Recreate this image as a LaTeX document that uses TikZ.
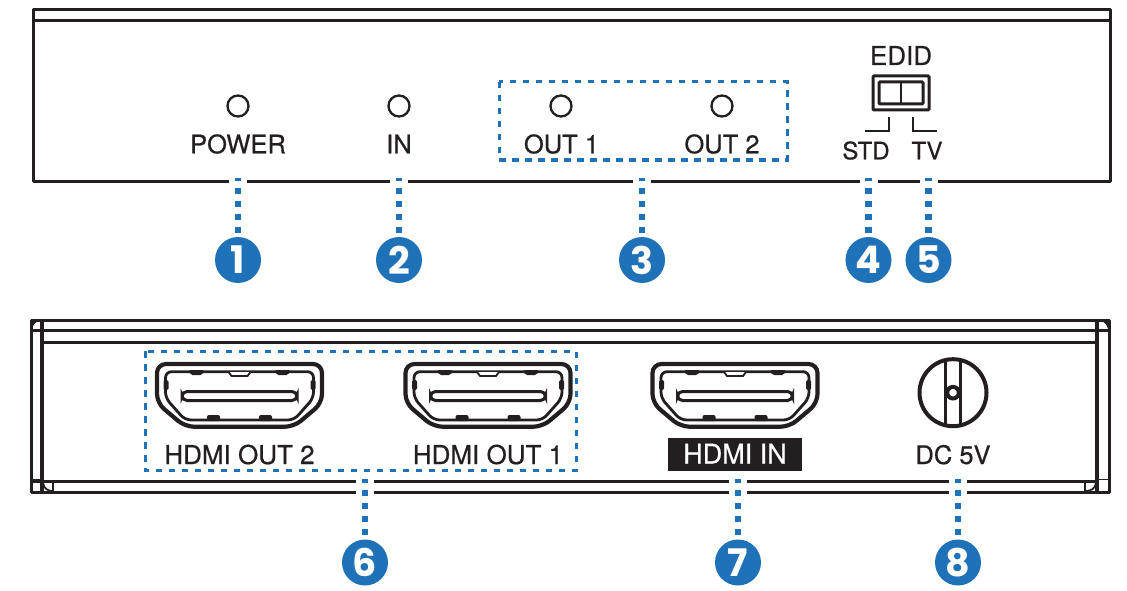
\documentclass[tikz,border=0pt]{standalone}
\usepackage{fontspec}
\setmainfont{TeX Gyre Heros}[FakeBold=0.6]
\newfontfamily\numfont{Poppins}
\definecolor{ink}{HTML}{231F20}
\definecolor{accent}{HTML}{2072B8}
\tikzset{
  x=1pt,y=-1pt,
  panel/.style={draw=ink,line width=3pt,line join=round},
  thinpanel/.style={draw=ink,line width=1.8pt},
  heavypanel/.style={draw=ink,line width=4pt},
  led/.style={circle,draw=ink,line width=2.3pt,minimum size=21pt,inner sep=0pt},
  label/.style={inner sep=0pt,anchor=base,text=ink,font=\fontsize{25.5}{30}\selectfont},
  smalllabel/.style={label,font=\fontsize{24}{30}\selectfont},
  badge/.style={circle,fill=accent,minimum size=46pt,inner sep=0pt,text=white,font=\numfont\bfseries\fontsize{38}{40}\selectfont},
  groupbox/.style={draw=accent,line width=3pt,dash pattern=on 6.5pt off 6.5pt},
  lead/.style={draw=accent,line width=6.4pt,preaction={draw=white,line width=18pt,solid}},
  leadtop/.style={lead,dash pattern=on 6.4pt off 6.6pt,dash phase=3pt},
  leadbot/.style={lead,dash pattern=on 6.4pt off 6.6pt,dash phase=2pt},
  hdmi/.pic={
    \draw[ink,line width=4.2pt,rounded corners=9pt] (-82.5,2)--(82.5,2)--(82.5,41)--(54.5,64.7)--(-54.5,64.7)--(-82.5,41)--cycle;
    \draw[ink,line width=2.8pt,rounded corners=6pt] (-74,9.7)--(74,9.7)--(74,36)--(54.5,58)--(-54.5,58)--(-74,36)--cycle;
    \fill[ink,rounded corners=2pt] (-51,8)--(-35,8)--(-37,13)--(-49,13)--cycle;
    \fill[ink,rounded corners=2pt] (51,8)--(35,8)--(37,13)--(49,13)--cycle;
    \draw[ink,line width=1.8pt,fill=white] (-11,10)--(-8,14)--(8,14)--(11,10);
    \fill[ink,rounded corners=1.5pt] (-76,18) rectangle (-71,28);
    \fill[ink,rounded corners=1.5pt] (76,18) rectangle (71,28);
    \fill[ink,rounded corners=2pt] (-32.5,59)--(-32.5,53)--(-19.5,53)--(-19.5,59)--cycle;
    \fill[ink,rounded corners=2pt] (32.5,59)--(32.5,53)--(19.5,53)--(19.5,59)--cycle;
    \draw[ink,line width=3pt,rounded corners=5pt] (-57.5,29.5) rectangle (57.5,38.5);
  }
}
\begin{document}
\begin{tikzpicture}
\useasboundingbox (0,0) rectangle (1127,591);

% top panel
\draw[panel] (33,20.5)--(33,10)--(1110,10)--(1110,20.5);
\draw[panel] (33,20.5)--(33,181.5)--(1110,181.5)--(1110,20.5)--cycle;

% bottom panel
\draw[panel] (31,320.5) rectangle (1109,492);
\draw[heavypanel] (42,320.5)--(42,492);
\draw[heavypanel] (1097,320.5)--(1097,492);
\draw[panel] (31,330.8)--(1109,330.8);
\draw[panel] (43,342)--(1096,342);
\draw[panel] (31,481.7)--(1097,481.7);
\draw[thinpanel] (31,479.5)--(42,479.5);
\draw[thinpanel] (1097,479.5)--(1109,479.5);
\draw[thinpanel] (53,481.7)--(53,492);
\draw[thinpanel] (1085,481.7)--(1085,492);
\draw[thinpanel] (43,483) .. controls (44,489) and (48,491) .. (53,491);
\draw[thinpanel] (1096,483) .. controls (1095,489) and (1091,491) .. (1085,491);
\fill[ink] (31,320.5)--(40,320.5) .. controls (35,322) and (33,325) .. (32,329)--(31,329)--cycle;
\fill[ink] (1109,320.5)--(1100,320.5) .. controls (1105,322) and (1107,325) .. (1108,329)--(1109,329)--cycle;

% group boxes
\draw[groupbox] (499,82) rectangle (787,160);
\draw[groupbox] (145,351) rectangle (576,470.5);

% LEDs and their labels
\node[led] (ledpower) at (238,106) {};
\node[led] (ledin) at (399,106) {};
\node[led] (ledoutone) at (561,106) {};
\node[led] (ledouttwo) at (722,106) {};
\node[label] (tpower) at (238,153.3) {POWER};
\node[label] (tin) at (399,153.3) {IN};
\node[label] (toutone) at (561.5,153.3) {OUT 1};
\node[label] (touttwo) at (722,153.3) {OUT 2};

% EDID switch
\node[label,font=\fontsize{26}{30}\selectfont] (tedid) at (901,65) {EDID};
\draw[ink,line width=3pt,rounded corners=1pt] (873,76) rectangle (929,110);
\draw[ink,line width=3pt,rounded corners=1pt] (879,82) rectangle (923,104);
\draw[ink,line width=2.2pt] (900.7,82)--(900.7,104);
\draw[ink,line width=2.3pt] (865,130.7)--(889,130.7)--(889,117);
\draw[ink,line width=2.3pt] (913,117)--(913,130.7)--(937,130.7);
\node[smalllabel] (tstd) at (866,159.3) {STD};
\node[smalllabel] (ttv) at (927,159.3) {TV};

% HDMI ports
\pic at (239.5,362) {hdmi};
\pic at (488,362) {hdmi};
\pic at (735,362) {hdmi};
\node[label,font=\fontsize{26}{30}\selectfont] (thdmitwo) at (239.5,464) {HDMI OUT 2};
\node[label,font=\fontsize{26}{30}\selectfont] (thdmione) at (488,464) {HDMI OUT 1};
\fill[ink] (668,438) rectangle (802,471);
\node[label,text=white,font=\fontsize{27}{30}\selectfont] (thdmiin) at (735,463.5) {HDMI IN};

% DC jack
\draw[ink,line width=4pt] (953,392.7) circle (33.5);
\draw[ink,line width=2.5pt] (945.7,360)--(945.7,425.5);
\draw[ink,line width=2.5pt] (960.7,360)--(960.7,425.5);
\draw[ink,line width=4pt,fill=white] (953,392.7) circle (5.8);
\node[label] (tdc) at (953,464) {DC 5V};

% badges
\node[badge] (b1) at (238,260) {1};
\node[badge] (b2) at (399,260) {2};
\node[badge] (b3) at (642,260) {3};
\node[badge] (b4) at (868.5,260) {4};
\node[badge] (b5) at (928.5,260) {5};
\node[badge] (b6) at (365,562.5) {6};
\node[badge] (b7) at (738,562.5) {7};
\node[badge] (b8) at (958,562.5) {8};

% connectors
\coordinate (s1) at (238,177.5);
\coordinate (s2) at (399,177.5);
\coordinate (s3) at (642,177.5);
\coordinate (s4) at (868.5,177.5);
\coordinate (s5) at (928.5,177.5);
\coordinate (s6) at (365,479);
\coordinate (s7) at (738,479);
\coordinate (s8) at (958,479);
\foreach \i in {1,...,5}{\draw[leadtop] (s\i)--(b\i);}
\foreach \i in {6,7,8}{\draw[leadbot] (s\i)--(b\i);}
\end{tikzpicture}
\end{document}
